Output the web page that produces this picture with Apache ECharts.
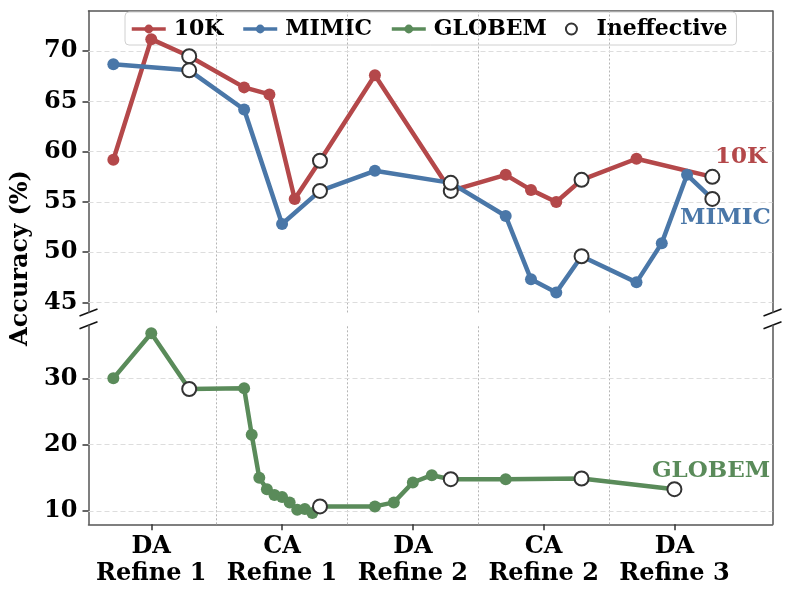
<!DOCTYPE html>
<html>
<head>
<meta charset="utf-8">
<script src="https://cdn.jsdelivr.net/npm/echarts@6/dist/echarts.min.js"></script>
<style>
html, body { margin: 0; padding: 0; background: #fff; }
#main { width: 792px; height: 597px; }
</style>
</head>
<body>
<div id="main"></div>
<script>
// phases of the refinement run, one label per x tick
var phases = ['DA\nRefine 1', 'CA\nRefine 1', 'DA\nRefine 2', 'CA\nRefine 2', 'DA\nRefine 3'];

// accuracy (%) of each step, grouped by phase
var acc10K = [[59.2, 71.2, 69.5], [66.4, 65.7, 55.3, 59.1], [67.6, 56.1], [57.7, 56.2, 55.0, 57.2], [59.3, 57.5]];
var accMIMIC = [[68.7, 68.1], [64.2, 52.8, 56.1], [58.1, 56.9], [53.6, 47.3, 46.0, 49.6], [47.0, 50.9, 57.7, 55.3]];
var accGLOBEM = [[30.0, 36.8, 28.4], [28.5, 21.5, 15.0, 13.3, 12.4, 12.1, 11.3, 10.2, 10.3, 9.7, 10.7], [10.7, 11.3, 14.3, 15.4, 14.8], [14.8, 14.9], [13.3]];

// y ticks of the two panels of the broken axis
var topTicks = [45, 50, 55, 60, 65, 70];
var bottomTicks = [10, 20, 30];

var FONT = 'DejaVu Serif';
var RED = '#b4484a', BLUE = '#4a77a8', GREEN = '#5a8b5a';
var SPREAD = 0.29;   // steps of a phase are spread over +-SPREAD around its tick

var GL = 88.5, GR = 772.5;
var TOP_T = 11, TOP_H = 301.5;
var BOT_T = 325.3, BOT_H = 199;

// the last step of every phase is the one that did not help
function buildPoints(groups) {
    var line = [], ineff = [];
    for (var i = 0; i < groups.length; i++) {
        var g = groups[i];
        for (var k = 0; k < g.length; k++) {
            var x = g.length === 1 ? i : i - SPREAD + 2 * SPREAD * k / (g.length - 1);
            line.push([x, g[k]]);
            if (k === g.length - 1) ineff.push([x, g[k]]);
        }
    }
    return { line: line, ineff: ineff };
}

var p10K = buildPoints(acc10K);
var pMIMIC = buildPoints(accMIMIC);
var pGLOBEM = buildPoints(accGLOBEM);

var boundaries = [];
for (var i = 0; i < phases.length - 1; i++) boundaries.push(i + 0.5);
var centers = phases.map(function (p, i) { return i; });

function lineSeries(name, color, pts, xi, yi, tag, tagPos) {
    return {
        name: name, type: 'line', xAxisIndex: xi, yAxisIndex: yi,
        data: pts, symbol: 'circle', symbolSize: 12, showAllSymbol: true,
        lineStyle: { color: color, width: 4.5 },
        itemStyle: { color: color },
        z: 5,
        markPoint: {
            silent: true, symbol: 'circle', symbolSize: 0,
            data: [{ coord: tagPos }],
            label: { show: true, formatter: tag, color: color, fontFamily: FONT, fontWeight: 'bold', fontSize: 23 }
        }
    };
}

function ineffSeries(pts, xi, yi) {
    return {
        name: 'Ineffective', type: 'scatter', xAxisIndex: xi, yAxisIndex: yi,
        data: pts, symbol: 'circle', symbolSize: 14, z: 6,
        itemStyle: { color: '#fff', borderColor: '#333', borderWidth: 2, opacity: 1 }
    };
}

function guideSeries(xi, yi, ticks) {
    return {
        name: 'guides', type: 'line', xAxisIndex: xi, yAxisIndex: yi, data: [], z: 1,
        markLine: {
            silent: true, symbol: 'none', animation: false,
            label: { show: false },
            data: boundaries.map(function (b) {
                return { xAxis: b, lineStyle: { type: [2, 2], color: '#b5b5b5', width: 1 } };
            }).concat(ticks.map(function (t) {
                return { yAxis: t, lineStyle: { type: [5, 3], color: '#dddddd', width: 1 } };
            }))
        }
    };
}

var spine = { show: true, onZero: false, lineStyle: { color: '#555', width: 1.5 } };
var tickLabel = { color: '#000', fontFamily: FONT, fontWeight: 'bold', fontSize: 24 };
var tickMark = { color: '#333', width: 1.5 };

var chart = echarts.init(document.getElementById('main'));

var option = {
    animation: false,
    grid: [
        { left: GL, right: 792 - GR, top: TOP_T, height: TOP_H },
        { left: GL, right: 792 - GR, top: BOT_T, height: BOT_H }
    ],
    xAxis: [
        { type: 'value', gridIndex: 0, position: 'top', min: -0.48, max: 4.75,
          axisLine: spine, axisTick: { show: false }, axisLabel: { show: false }, splitLine: { show: false } },
        { type: 'value', gridIndex: 1, position: 'bottom', min: -0.48, max: 4.75,
          axisLine: spine,
          axisTick: { show: true, customValues: centers, length: 6, lineStyle: tickMark },
          axisLabel: Object.assign({ customValues: centers, margin: 9, lineHeight: 27,
              formatter: function (v) { return phases[Math.round(v)]; } }, tickLabel),
          splitLine: { show: false } }
    ],
    yAxis: [
        { type: 'value', gridIndex: 0, min: 44, max: 74, position: 'left',
          axisLine: spine,
          axisTick: { show: true, customValues: topTicks, length: 6, lineStyle: tickMark },
          axisLabel: Object.assign({ customValues: topTicks, margin: 11 }, tickLabel),
          splitLine: { show: false } },
        { type: 'value', gridIndex: 0, min: 44, max: 74, position: 'right',
          axisLine: spine, axisTick: { show: false }, axisLabel: { show: false }, splitLine: { show: false } },
        { type: 'value', gridIndex: 1, min: 8, max: 38, position: 'left',
          axisLine: spine,
          axisTick: { show: true, customValues: bottomTicks, length: 6, lineStyle: tickMark },
          axisLabel: Object.assign({ customValues: bottomTicks, margin: 11 }, tickLabel),
          splitLine: { show: false } },
        { type: 'value', gridIndex: 1, min: 8, max: 38, position: 'right',
          axisLine: spine, axisTick: { show: false }, axisLabel: { show: false }, splitLine: { show: false } }
    ],
    legend: {
        data: ['10K', 'MIMIC', 'GLOBEM', 'Ineffective'],
        left: 125, top: 12, z: 4,
        itemWidth: 34, itemHeight: 11, itemGap: 18,
        padding: [6, 9, 5, 5],
        lineStyle: { width: 3.5 },
        backgroundColor: '#fff', borderColor: '#d0d0d0', borderWidth: 1, borderRadius: 4,
        textStyle: { color: '#000', fontFamily: FONT, fontWeight: 'bold', fontSize: 22, padding: [0, 0, 0, 3] }
    },
    series: [
        guideSeries(0, 0, topTicks),
        guideSeries(1, 2, bottomTicks),
        lineSeries('10K', RED, p10K.line, 0, 0, '10K', [4.51, 59.45]),
        lineSeries('MIMIC', BLUE, pMIMIC.line, 0, 0, 'MIMIC', [4.39, 53.4]),
        lineSeries('GLOBEM', GREEN, pGLOBEM.line, 1, 2, 'GLOBEM', [4.28, 16.1]),
        ineffSeries(p10K.ineff.concat(pMIMIC.ineff), 0, 0),
        ineffSeries(pGLOBEM.ineff, 1, 2)
    ]
};

// diagonal marks of the axis break
var breakMarks = [];
[GL, GR].forEach(function (x) {
    [TOP_T + TOP_H, BOT_T].forEach(function (y) {
        breakMarks.push({
            type: 'line', silent: true,
            shape: { x1: x - 9, y1: y + 3.5, x2: x + 9, y2: y - 3.5 },
            style: { stroke: '#111', lineWidth: 1.5 }
        });
    });
});

option.graphic = breakMarks.concat([{
    type: 'text', silent: true, rotation: Math.PI / 2,
    x: 21, y: 258,
    style: { text: 'Accuracy (%)', fill: '#000', font: 'bold 24px "DejaVu Serif"', align: 'center', verticalAlign: 'middle' }
}]);

chart.setOption(option);
</script>
</body>
</html>
